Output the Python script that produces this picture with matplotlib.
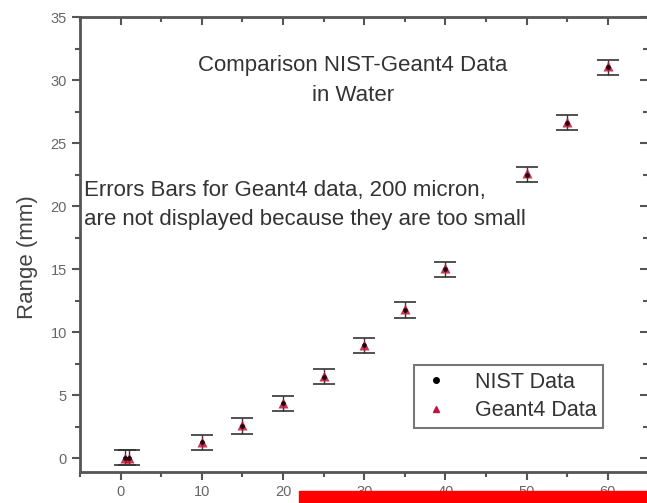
import matplotlib
matplotlib.use('Agg')
import matplotlib.pyplot as plt
from matplotlib.patches import Rectangle
from matplotlib.lines import Line2D
from matplotlib.ticker import MultipleLocator

plt.rcParams['font.family'] = ['Liberation Sans', 'DejaVu Sans']

# 数据 (能量 MeV, 射程 mm)
energy = [0.5, 1, 10, 15, 20, 25, 30, 35, 40, 50, 55, 60]
nist_range = [0.05, 0.05, 1.25, 2.55, 4.35, 6.45, 8.95, 11.75, 15.0, 22.5, 26.6, 31.0]
nist_err = [0.6, 0.6, 0.6, 0.6, 0.6, 0.6, 0.6, 0.6, 0.6, 0.6, 0.6, 0.6]
geant4_range = [0.05, 0.05, 1.25, 2.6, 4.4, 6.5, 9.0, 11.8, 15.05, 22.6, 26.7, 31.1]

nist_color = 'black'
geant4_color = '#c0143c'
grey = '#555555'

fig = plt.figure(figsize=(6.47, 5.03), dpi=100)
ax = fig.add_axes([0.1236, 0.0616, 0.8787, 0.9046])

ax.errorbar(energy, nist_range, yerr=nist_err, fmt='none', ecolor='#333333',
            elinewidth=1, capsize=8, capthick=1.2)
ax.plot(energy, geant4_range, '^', color=geant4_color, ms=7, alpha=0.85, mec='none')
ax.plot(energy, nist_range, 'o', color=nist_color, ms=3.5, alpha=0.8, mec='none')

ax.set_xlim(-5, 65)
ax.set_ylim(-1.1, 35)
ax.xaxis.set_major_locator(MultipleLocator(10))
ax.xaxis.set_minor_locator(MultipleLocator(5))
ax.yaxis.set_major_locator(MultipleLocator(5))
ax.yaxis.set_minor_locator(MultipleLocator(2.5))
ax.tick_params(which='both', direction='out', colors=grey, labelcolor='#666666',
               labelsize=10.5, width=1.5)
ax.tick_params(which='major', length=6)
ax.tick_params(which='minor', length=3.5)
for spine in ax.spines.values():
    spine.set_color(grey)
    spine.set_linewidth(2)

# 上、右两边刻度朝内
top = ax.secondary_xaxis('top')
top.xaxis.set_major_locator(MultipleLocator(10))
top.xaxis.set_minor_locator(MultipleLocator(5))
top.tick_params(which='both', direction='in', colors=grey, labeltop=False, width=1.5)
top.tick_params(which='major', length=6)
top.tick_params(which='minor', length=3.5)
right = ax.secondary_yaxis('right')
right.yaxis.set_major_locator(MultipleLocator(5))
right.yaxis.set_minor_locator(MultipleLocator(2.5))
right.tick_params(which='both', direction='in', colors=grey, labelright=False, width=1.5)
right.tick_params(which='major', length=6)
right.tick_params(which='minor', length=3.5)

ax.set_ylabel('Range (mm)', fontsize=16, color='#444444')
ax.yaxis.set_label_coords(-0.073, 0.4725)

ax.text(0.48, 0.860, 'Comparison NIST-Geant4 Data\nin Water', transform=ax.transAxes,
        ha='center', va='center', fontsize=16, color='#333333', linespacing=1.57)
ax.text(0.007, 0.587, 'Errors Bars for Geant4 data, 200 micron,\n'
        'are not displayed because they are too small', transform=ax.transAxes,
        ha='left', va='center', fontsize=16, color='#333333', linespacing=1.5)

handles = [Line2D([], [], ls='none', marker='o', color=nist_color, ms=4),
           Line2D([], [], ls='none', marker='^', color=geant4_color, ms=5)]
leg = ax.legend(handles, ['NIST Data', 'Geant4 Data'], loc='lower left',
                bbox_to_anchor=(0.588, 0.097), fontsize=15.5,
                frameon=True, fancybox=False, handlelength=1.4, handletextpad=1.1,
                borderpad=0.3, labelspacing=0.35, borderaxespad=0,
                labelcolor='#333333')
leg.get_frame().set_edgecolor(grey)
leg.get_frame().set_linewidth(1.5)

fig.patches.append(Rectangle((299 / 647, 0), 1, 12 / 503, transform=fig.transFigure,
                             color='red', zorder=10))

fig.savefig('out.png', dpi=100)
